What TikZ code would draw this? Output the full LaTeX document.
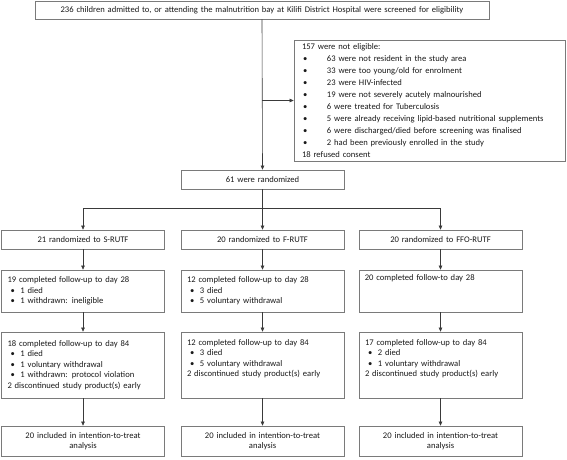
\documentclass[tikz,border=0pt]{standalone}
\usepackage{fontspec}
\setmainfont{Carlito}
\usetikzlibrary{arrows.meta}
\definecolor{boxline}{HTML}{7A7A7A}
\definecolor{conline}{HTML}{3A3A3A}
\newcommand{\bul}{\hspace*{3pt}\makebox[10pt][l]{\textbullet}}
\newcommand{\ebul}{\hspace*{1pt}\makebox[24pt][l]{\textbullet}}
\begin{document}
\begin{tikzpicture}[x=1pt,y=-1pt,
  every node/.style={font=\fontsize{8.6}{10.5}\selectfont, text=black!90},
  flowbox/.style={draw=boxline, line width=0.8pt, rectangle, inner sep=0pt, minimum width=163pt, text width=151pt},
  conn/.style={draw=conline, line width=0.6pt},
  arr/.style={conn, -{Triangle[length=4pt,width=3.6pt]}}]
\useasboundingbox (0,0) rectangle (567,459);
\node[flowbox, minimum width=454pt, minimum height=18pt, text width=440pt, align=center] (top) at (262,10) {236 children admitted to, or attending the malnutrition bay at Kilifi District Hospital were screened for eligibility};
\node[flowbox, minimum width=271pt, minimum height=121pt, text width=255pt, align=left, font=\fontsize{8.6}{12}\selectfont] (elig) at (429.5,100.5) {157 were not eligible:\\
\ebul 63 were not resident in the study area\\
\ebul 33 were too young/old for enrolment\\
\ebul 23 were HIV-infected\\
\ebul 19 were not severely acutely malnourished\\
\ebul 6 were treated for Tuberculosis\\
\ebul 5 were already receiving lipid-based nutritional supplements\\
\ebul 6 were discharged/died before screening was finalised\\
\ebul 2 had been previously enrolled in the study\\
18 refused consent};
\node[flowbox, minimum height=19pt, align=center] (rand) at (262.5,179.5) {61 were randomized};
\coordinate (split) at (262.5,208);
% row 1
\node[flowbox, minimum height=19pt, align=center] (a1) at (83,239.5) {21 randomized to S-RUTF};
\node[flowbox, minimum height=19pt, align=center] (b1) at (262.5,239.5) {20 randomized to F-RUTF};
\node[flowbox, minimum height=19pt, align=center] (c1) at (440.5,239.5) {20 randomized to FFO-RUTF};
% row 2
\node[flowbox, minimum height=42pt, align=left] (a2) at (83,291) {19 completed follow-up to day 28\\ \bul 1 died\\ \bul 1 withdrawn: ineligible};
\node[flowbox, minimum height=42pt, align=left] (b2) at (262.5,291) {12 completed follow-up to day 28\\ \bul 3 died\\ \bul 5 voluntary withdrawal};
\node[flowbox, minimum height=42pt, align=left, text height=6pt] (c2) at (440.5,291) {};
\node[anchor=north west, inner sep=0pt, text width=151pt, align=left] (c2t) at ([xshift=6pt,yshift=-5pt]c2.north west) {20 completed follow-to day 28};
% row 3
\node[flowbox, minimum height=66pt, align=left] (a3) at (83,365) {18 completed follow-up to day 84\\ \bul 1 died\\ \bul 1 voluntary withdrawal\\ \bul 1 withdrawn: protocol violation\\ 2 discontinued study product(s) early};
\node[flowbox, minimum height=66pt, align=left] (b3) at (262.5,365) {12 completed follow-up to day 84\\ \bul 3 died\\ \bul 5 voluntary withdrawal\\ 2 discontinued study product(s) early\\ \strut};
\node[flowbox, minimum height=66pt, align=left] (c3) at (440.5,365) {17 completed follow-up to day 84\\ \bul 2 died\\ \bul 1 voluntary withdrawal\\ 2 discontinued study product(s) early\\ \strut};
% row 4
\node[flowbox, minimum height=30pt, align=center] (a4) at (83,441) {20 included in intention-to-treat\\ analysis};
\node[flowbox, minimum height=30pt, align=center] (b4) at (262.5,441) {20 included in intention-to-treat\\ analysis};
\node[flowbox, minimum height=30pt, align=center] (c4) at (440.5,441) {20 included in intention-to-treat\\ analysis};
% connectors
\draw[arr] (top.south) -- (rand.north);
\draw[arr] (top.south |- elig.west) -- (elig.west);
\draw[conn] (rand.south) -- (split);
\draw[arr] (split) -| (a1.north);
\draw[arr] (split) -- (b1.north);
\draw[arr] (split) -| (c1.north);
\foreach \c in {a,b,c}{
  \draw[arr] (\c1.south) -- (\c2.north);
  \draw[arr] (\c2.south) -- (\c3.north);
  \draw[arr] (\c3.south) -- (\c4.north);
}
\end{tikzpicture}
\end{document}
